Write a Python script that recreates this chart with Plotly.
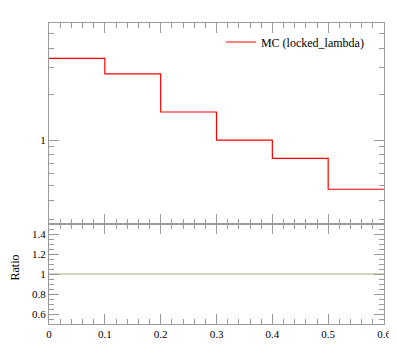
import plotly.graph_objects as go
from plotly.subplots import make_subplots

# Data
bin_edges = [0.0, 0.1, 0.2, 0.3, 0.4, 0.5, 0.6]
mc_values = [3.45, 2.73, 1.53, 1.0, 0.758, 0.474]
ratio_values = [1.0, 1.0, 1.0, 1.0, 1.0, 1.0]
series_name = "MC (locked_lambda)"
ratio_label = "Ratio"
x_tick_vals = [0, 0.1, 0.2, 0.3, 0.4, 0.5, 0.6]
x_tick_text = ["0", "0.1", "0.2", "0.3", "0.4", "0.5", "0.6"]
ratio_tick_vals = [0.6, 0.8, 1.0, 1.2, 1.4]
ratio_tick_text = ["0.6", "0.8", "1", "1.2", "1.4"]
log_major = [1]
log_minor = [0.3, 0.4, 0.5, 0.6, 0.7, 0.8, 0.9, 2, 3, 4, 5]

FONT = "Liberation Serif"
AX = "#9a9a9a"

fig = make_subplots(rows=2, cols=1, shared_xaxes=False, vertical_spacing=0,
                    row_heights=[201, 100])

fig.add_trace(go.Scatter(
    x=bin_edges, y=mc_values + [mc_values[-1]], mode="lines",
    line=dict(shape="hv", color="#ff0000", width=1.2),
    name=series_name, showlegend=True), row=1, col=1)

fig.add_trace(go.Scatter(
    x=bin_edges, y=ratio_values + [ratio_values[-1]], mode="lines",
    line=dict(shape="hv", color="#a9a96e", width=1.2),
    showlegend=False), row=2, col=1)

common_x = dict(range=[0, 0.6], showline=True, linecolor=AX, linewidth=1,
                mirror="allticks", ticks="inside", ticklen=10, tickcolor=AX,
                tickwidth=1, tickvals=x_tick_vals, showgrid=False, zeroline=False,
                automargin=False,
                minor=dict(ticks="inside", ticklen=5, tickcolor=AX, dtick=0.02, tick0=0,
                           showgrid=False))

fig.update_xaxes(**common_x, showticklabels=False, row=1, col=1)
fig.update_xaxes(**common_x, ticktext=x_tick_text, showticklabels=True,
                 tickfont=dict(family=FONT, size=11, color="#000"), row=2, col=1)

fig.update_yaxes(type="log", range=[-0.553, 0.771], showline=True, linecolor=AX,
                 linewidth=1, mirror="allticks", ticks="inside", ticklen=10,
                 tickcolor=AX, tickvals=log_major, ticktext=["1"], showgrid=False,
                 zeroline=False, tickfont=dict(family=FONT, size=11, color="#000"),
                 automargin=False,
                 minor=dict(ticks="inside", ticklen=5, tickcolor=AX,
                            tickvals=log_minor, showgrid=False),
                 row=1, col=1)

fig.update_yaxes(range=[0.5, 1.5], showline=True, linecolor=AX, linewidth=1,
                 mirror="allticks", ticks="inside", ticklen=10, tickcolor=AX,
                 tickvals=ratio_tick_vals, ticktext=ratio_tick_text, showgrid=False,
                 zeroline=False, tickfont=dict(family=FONT, size=11, color="#000"),
                 automargin=False,
                 minor=dict(ticks="inside", ticklen=5, tickcolor=AX, dtick=0.05,
                            tick0=0.5, showgrid=False),
                 row=2, col=1)

fig.add_annotation(text=ratio_label, xref="paper", yref="paper", x=-0.1, y=0.186,
                   textangle=-90, showarrow=False, xanchor="center", yanchor="middle",
                   borderpad=0,
                   font=dict(family=FONT, size=12, color="#000"))

# page body has an 8px margin; size the figure so the plot area lands where the reference has it
fig.update_layout(
    width=389, height=342,
    margin=dict(l=41, r=13, t=15, b=26, autoexpand=False),
    paper_bgcolor="white", plot_bgcolor="white",
    font=dict(family=FONT, size=11, color="#000"),
    legend=dict(x=0.955, y=0.985, xanchor="right", yanchor="top",
                bgcolor="rgba(0,0,0,0)", font=dict(family=FONT, size=12),
                itemwidth=30),
)

fig.write_html("out.html")
